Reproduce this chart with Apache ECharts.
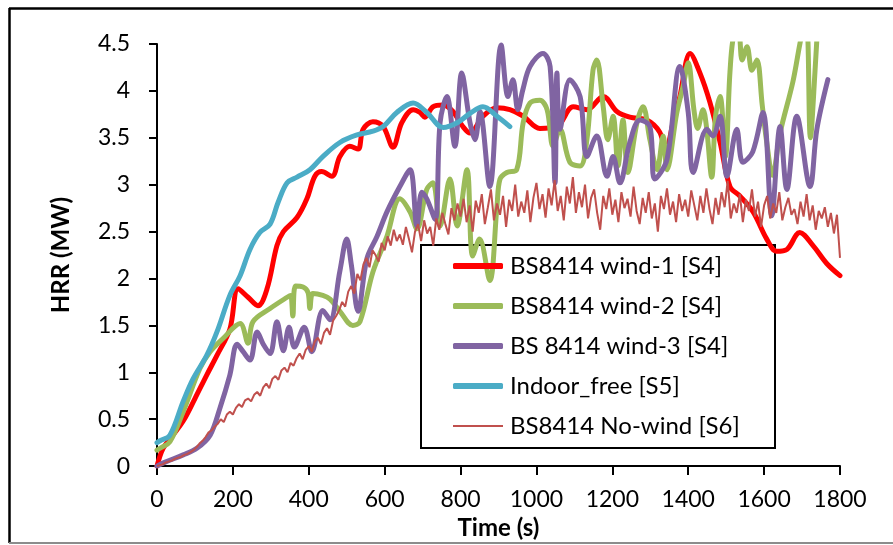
<!DOCTYPE html>
<html>
<head>
<meta charset="utf-8">
<script src="https://cdn.jsdelivr.net/npm/echarts@6/dist/echarts.min.js"></script>
<style>
  html, body { margin: 0; padding: 0; background: #fff; }
  #chart { width: 893px; height: 545px; }
</style>
</head>
<body>
<div id="chart"></div>
<script>
// Heat release rate curves, time in seconds, HRR in MW
const wind1Time = [0, 16, 40, 69, 100, 131, 158, 192, 214, 240, 266, 290, 316, 333, 369, 395, 416, 434, 461, 482, 508, 530, 543, 569, 596, 622, 645, 675, 693, 706, 727, 754, 780, 806, 825, 859, 896, 930, 965, 1009, 1054, 1097, 1133, 1176, 1212, 1246, 1291, 1325, 1340, 1360, 1378, 1405, 1431, 1457, 1484, 1510, 1536, 1571, 1607, 1633, 1660, 1694, 1729, 1765, 1800];
const wind1HRR = [0, 0.19, 0.32, 0.48, 0.72, 0.97, 1.18, 1.46, 1.89, 1.8, 1.71, 1.89, 2.35, 2.5, 2.65, 2.85, 3.09, 3.14, 3.09, 3.3, 3.41, 3.38, 3.59, 3.67, 3.62, 3.4, 3.66, 3.8, 3.77, 3.72, 3.83, 3.85, 3.78, 3.62, 3.55, 3.73, 3.82, 3.8, 3.73, 3.6, 3.62, 3.83, 3.8, 3.94, 3.78, 3.72, 3.69, 3.56, 3.36, 3.66, 3.94, 4.4, 4.19, 3.88, 3.45, 2.98, 2.88, 2.71, 2.42, 2.29, 2.31, 2.49, 2.35, 2.16, 2.03];

const wind2Time = [0, 8, 34, 69, 113, 140, 174, 219, 240, 253, 298, 343, 352, 358, 365, 385, 398, 403, 411, 437, 456, 482, 516, 535, 569, 606, 640, 667, 685, 711, 727, 746, 772, 791, 817, 832, 850, 877, 896, 904, 922, 948, 965, 983, 1009, 1028, 1044, 1062, 1088, 1115, 1133, 1149, 1159, 1176, 1188, 1202, 1215, 1228, 1241, 1265, 1281, 1299, 1318, 1334, 1344, 1370, 1386, 1400, 1415, 1425, 1439, 1448, 1462, 1472, 1484, 1498, 1510, 1520, 1532, 1542, 1555, 1568, 1581, 1595, 1607, 1622, 1642, 1676, 1702, 1712, 1722, 1734, 1745];
const wind2HRR = [0.17, 0.19, 0.26, 0.58, 1.04, 1.22, 1.36, 1.52, 1.31, 1.54, 1.68, 1.8, 1.82, 1.6, 1.92, 1.91, 1.85, 1.68, 1.84, 1.82, 1.78, 1.65, 1.5, 1.54, 2.07, 2.45, 2.85, 2.71, 2.53, 2.95, 3.02, 2.56, 3.06, 2.56, 3.16, 2.24, 2.42, 1.98, 2.77, 3.06, 3.13, 3.16, 3.66, 3.87, 3.9, 3.8, 3.41, 3.59, 3.24, 3.2, 3.48, 4.22, 4.33, 3.83, 3.48, 3.73, 3.2, 3.69, 3.13, 3.66, 3.83, 3.48, 3.16, 3.52, 3.16, 3.77, 4.04, 4.3, 3.8, 3.6, 3.8, 3.62, 3.08, 3.73, 3.94, 3.3, 4.2, 4.6, 4.65, 4.33, 4.47, 4.22, 4.33, 3.85, 3.45, 3.1, 3.55, 4.1, 4.65, 4.7, 3.5, 4.2, 5.0];

const wind3Time = [0, 20, 69, 105, 140, 166, 192, 211, 227, 245, 264, 280, 298, 316, 333, 348, 362, 388, 408, 437, 456, 482, 500, 512, 530, 553, 580, 606, 640, 667, 685, 698, 711, 733, 746, 764, 785, 803, 825, 838, 851, 877, 907, 925, 938, 951, 964, 983, 1017, 1036, 1049, 1054, 1062, 1088, 1115, 1133, 1159, 1186, 1202, 1220, 1246, 1273, 1299, 1312, 1344, 1378, 1400, 1413, 1449, 1465, 1484, 1502, 1528, 1544, 1570, 1597, 1620, 1642, 1660, 1686, 1721, 1739, 1768];
const wind3HRR = [0, 0.04, 0.12, 0.19, 0.33, 0.62, 0.97, 1.3, 1.22, 1.13, 1.43, 1.3, 1.2, 1.54, 1.23, 1.48, 1.27, 1.48, 1.22, 1.66, 1.56, 2.08, 2.42, 2.15, 1.65, 2.21, 2.45, 2.71, 2.98, 3.16, 2.56, 2.92, 2.85, 2.63, 3.66, 3.94, 3.41, 4.19, 3.66, 3.48, 3.78, 2.98, 4.49, 3.94, 4.12, 3.8, 4.01, 4.26, 4.4, 4.26, 3.02, 4.19, 3.59, 4.12, 3.94, 3.3, 3.52, 3.09, 3.3, 3.02, 3.45, 3.69, 3.62, 3.06, 3.27, 4.26, 3.77, 3.13, 3.59, 3.52, 3.73, 3.09, 3.59, 3.24, 3.35, 3.77, 2.67, 3.62, 2.95, 3.73, 2.98, 3.59, 4.12];

const indoorTime = [0, 8, 34, 69, 95, 131, 158, 192, 219, 245, 271, 298, 319, 343, 369, 403, 437, 482, 527, 569, 596, 632, 675, 711, 754, 791, 825, 859, 896, 930];
const indoorHRR = [0.25, 0.27, 0.33, 0.69, 0.93, 1.18, 1.43, 1.82, 2.03, 2.31, 2.49, 2.58, 2.81, 3.02, 3.08, 3.16, 3.3, 3.45, 3.53, 3.57, 3.62, 3.77, 3.87, 3.77, 3.61, 3.66, 3.76, 3.83, 3.73, 3.62];

// No-wind test logged every 8 s
const noWindStep = 8;
const noWindHRR = [
  0, 0.01, 0.02, 0.04, 0.05, 0.06, 0.08, 0.09, 0.10, 0.12,
  0.13, 0.15, 0.17, 0.20, 0.24, 0.27, 0.31, 0.36, 0.38, 0.42,
  0.45, 0.50, 0.47, 0.55, 0.58, 0.55, 0.62, 0.66, 0.63, 0.70,
  0.72, 0.69, 0.76, 0.79, 0.75, 0.84, 0.88, 0.83, 0.93, 0.96,
  0.92, 1.02, 1.05, 1.00, 1.10, 1.07, 1.15, 1.20, 1.14, 1.24,
  1.28, 1.22, 1.33, 1.37, 1.30, 1.42, 1.47, 1.40, 1.55, 1.60,
  1.66, 1.75, 1.70, 1.86, 1.92, 1.84, 2.05, 1.98, 2.15, 2.22,
  2.12, 2.30, 2.25, 2.18, 2.38, 2.30, 2.45, 2.35, 2.52, 2.40,
  2.47, 2.36, 2.55, 2.42, 2.28, 2.50, 2.58, 2.40, 2.62, 2.48,
  2.55, 2.35, 2.64, 2.52, 2.70, 2.58, 2.47, 2.75, 2.62, 2.80,
  2.66, 2.85, 2.60, 2.78, 2.50, 2.83, 2.70, 2.90, 2.58, 2.76,
  2.95, 2.62, 2.80, 2.68, 2.88, 2.55, 2.84, 2.72, 3.00, 2.66,
  2.82, 2.70, 2.94, 2.60, 2.86, 3.02, 2.74, 2.90, 2.65, 2.96,
  2.78, 3.05, 2.72, 2.88, 2.62, 2.98, 2.80, 3.08, 2.70, 2.92,
  2.76, 3.00, 2.64, 2.86, 2.95, 2.70, 2.52, 2.88, 2.74, 2.96,
  2.68, 2.84, 2.60, 2.92, 2.75, 2.85, 2.66, 2.98, 2.72, 2.58,
  2.86, 2.70, 2.92, 2.64, 2.80, 2.50, 2.88, 2.74, 2.96, 2.68,
  2.82, 2.60, 2.90, 2.72, 2.84, 2.66, 2.94, 2.78, 2.62, 2.88,
  2.70, 2.96, 2.74, 2.58, 2.86, 2.68, 2.92, 2.76, 3.04, 2.64,
  2.80, 2.70, 2.90, 2.60, 2.84, 2.72, 2.95, 2.66, 2.82, 2.55,
  2.78, 2.88, 2.64, 2.80, 2.70, 2.92, 2.62, 2.76, 2.86, 2.68,
  2.74, 2.58, 2.82, 2.66, 2.90, 2.62, 2.78, 2.52, 2.72, 2.64,
  2.76, 2.55, 2.70, 2.48, 2.68, 2.22
];

const seriesNames = ['BS8414 wind-1 [S4]', 'BS8414 wind-2 [S4]', 'BS 8414 wind-3 [S4]', 'Indoor_free [S5]', 'BS8414 No-wind [S6]'];
const seriesColors = ['#FF0000', '#9BBB59', '#8064A2', '#4BACC6', '#C0504D'];

const timeMax = 1800;
const timeStep = 200;
const hrrMax = 4.5;
const hrrStep = 0.5;

function pairs(ts, vs) {
  return ts.map((t, i) => [t, vs[i]]);
}
const noWindTime = noWindHRR.map((_, i) => i * noWindStep);

const FONT = 'Lato, "Open Sans", sans-serif';

function thickLine(name, color, data) {
  return {
    name: name,
    type: 'line',
    data: data,
    showSymbol: false,
    symbol: 'none',
    smooth: 0.35,
    lineStyle: { color: color, width: 5, cap: 'round', join: 'round' },
    itemStyle: { color: color },
    emphasis: { disabled: true },
    animation: false
  };
}

const legendText = { color: '#000', fontSize: 24, lineHeight: 24, fontFamily: FONT, padding: [0, 0, 0, 2] };
const legendTop = 254;
const legendRow = 40;

const chart = echarts.init(document.getElementById('chart'), null, { renderer: 'canvas' });
chart.setOption({
  backgroundColor: '#fff',
  animation: false,
  textStyle: { fontFamily: FONT },
  grid: { left: 157, right: 53, top: 44, bottom: 77, containLabel: false },
  xAxis: {
    type: 'value',
    min: 0,
    max: timeMax,
    interval: timeStep,
    name: 'Time (s)',
    nameLocation: 'middle',
    nameGap: 46,
    nameTextStyle: { color: '#000', fontSize: 24, fontWeight: 'bold', fontFamily: FONT },
    axisLine: { show: true, onZero: false, lineStyle: { color: '#000', width: 2 } },
    axisTick: { show: true, inside: false, length: 9, lineStyle: { color: '#000', width: 2 } },
    axisLabel: { color: '#000', fontSize: 23, margin: 22, fontFamily: FONT, formatter: (v) => String(v) },
    splitLine: { show: false }
  },
  yAxis: {
    type: 'value',
    min: 0,
    max: hrrMax,
    interval: hrrStep,
    name: 'HRR (MW)',
    nameLocation: 'middle',
    nameGap: 84,
    nameTextStyle: { color: '#000', fontSize: 24, fontWeight: 'bold', fontFamily: FONT },
    axisLine: { show: true, lineStyle: { color: '#000', width: 2 } },
    axisTick: { show: true, inside: false, length: 8, lineStyle: { color: '#000', width: 2 } },
    axisLabel: { color: '#000', fontSize: 23, margin: 27, fontFamily: FONT, formatter: (v) => String(v) },
    splitLine: { show: false }
  },
  legend: [
    {
      orient: 'vertical',
      left: 453,
      top: legendTop,
      padding: 0,
      itemWidth: 50,
      itemHeight: 6,
      itemGap: legendRow - 24,
      icon: 'roundRect',
      selectedMode: false,
      data: seriesNames.slice(0, 4),
      textStyle: legendText
    },
    {
      orient: 'vertical',
      left: 453,
      top: legendTop + 4 * legendRow,
      padding: 0,
      itemWidth: 50,
      itemHeight: 2,
      icon: 'rect',
      selectedMode: false,
      data: seriesNames.slice(4),
      textStyle: legendText
    }
  ],
  graphic: [
    { type: 'rect', z: 0, silent: true, shape: { x: 421, y: 245, width: 354, height: 203 }, style: { fill: '#fff', stroke: '#000', lineWidth: 2 } },
    { type: 'line', silent: true, shape: { x1: 9, y1: 8.5, x2: 893, y2: 8.5 }, style: { stroke: '#000', lineWidth: 2.5 } },
    { type: 'line', silent: true, shape: { x1: 9.5, y1: 8, x2: 9.5, y2: 543 }, style: { stroke: '#000', lineWidth: 2.5 } },
    { type: 'line', silent: true, shape: { x1: 9, y1: 543, x2: 893, y2: 543 }, style: { stroke: '#8c8c8c', lineWidth: 2 } }
  ],
  series: [
    thickLine(seriesNames[0], seriesColors[0], pairs(wind1Time, wind1HRR)),
    thickLine(seriesNames[1], seriesColors[1], pairs(wind2Time, wind2HRR)),
    thickLine(seriesNames[2], seriesColors[2], pairs(wind3Time, wind3HRR)),
    thickLine(seriesNames[3], seriesColors[3], pairs(indoorTime, indoorHRR)),
    {
      name: seriesNames[4],
      type: 'line',
      data: pairs(noWindTime, noWindHRR),
      showSymbol: false,
      symbol: 'none',
      smooth: false,
      lineStyle: { color: seriesColors[4], width: 2 },
      itemStyle: { color: seriesColors[4] },
      emphasis: { disabled: true },
      animation: false
    }
  ]
});
</script>
</body>
</html>
